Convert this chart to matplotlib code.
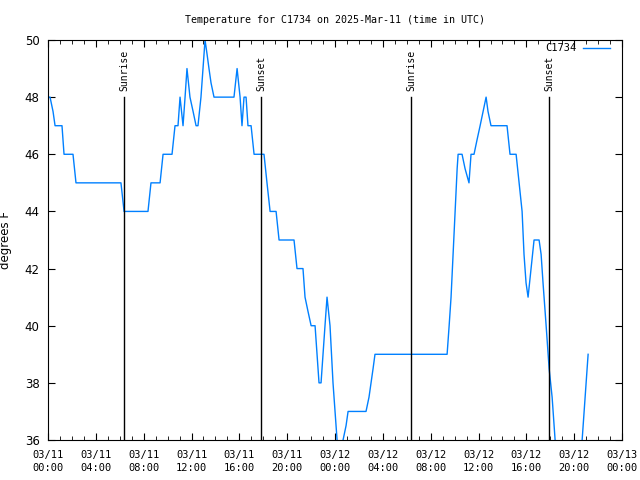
import matplotlib
matplotlib.use('Agg')
import matplotlib.pyplot as plt

# hours since 03/11 00:00 UTC, temperature in deg F
hours = [0.0, 0.17, 0.42, 0.59, 1.17, 1.34, 2.09, 2.34, 6.10, 6.36, 8.36, 8.61, 9.37, 9.62,
         10.37, 10.62, 10.87, 11.04, 11.29, 11.46, 11.62, 11.87, 12.13, 12.38, 12.54, 12.79,
         12.96, 13.13, 13.30, 13.46, 13.63, 13.88, 15.55, 15.81, 16.06, 16.22, 16.39, 16.56,
         16.72, 16.98, 17.23, 18.06, 18.31, 18.57, 19.07, 19.32, 20.57, 20.82, 21.32, 21.49,
         21.74, 22.00, 22.33, 22.66, 22.83, 23.16, 23.33, 23.58, 23.83, 24.17, 24.42, 24.67,
         24.92, 25.09, 26.59, 26.84, 27.01, 27.18, 27.34, 33.37, 33.54, 33.70, 33.87, 34.04,
         34.21, 34.29, 34.62, 34.87, 35.20, 35.37, 35.62, 35.87, 36.13, 36.38, 36.63, 36.79,
         37.04, 38.38, 38.63, 39.14, 39.39, 39.64, 39.80, 39.97, 40.14, 40.39, 40.64, 41.06,
         41.23, 41.39, 41.65, 41.90, 42.15, 42.40, 42.65, 44.40, 44.66, 44.91, 45.16]
temps = [48, 48, 47.5, 47, 47, 46, 46, 45, 45, 44, 44, 45, 45, 46,
         46, 47, 47, 48, 47, 48, 49, 48, 47.5, 47, 47, 48,
         49, 50, 49.5, 49, 48.5, 48, 48, 49, 48, 47, 48, 48,
         47, 47, 46, 46, 45, 44, 44, 43, 43, 42, 42, 41,
         40.5, 40, 40, 38, 38, 40, 41, 40, 38, 36, 35.5, 36,
         36.5, 37, 37, 37.5, 38, 38.5, 39, 39, 40, 41, 42.5, 44,
         45.5, 46, 46, 45.5, 45, 46, 46, 46.5, 47, 47.5, 48, 47.5,
         47, 47, 46, 46, 45, 44, 42.5, 41.5, 41, 42, 43, 43,
         42.5, 41.5, 40, 38.5, 37.5, 36, 35, 35, 36, 37.5, 39]

sun_times = [6.36, 17.82, 30.36, 41.90]
sun_names = ['Sunrise', 'Sunset', 'Sunrise', 'Sunset']

tick_hours = list(range(0, 49, 4))
tick_labels = ['03/11\n00:00', '03/11\n04:00', '03/11\n08:00', '03/11\n12:00', '03/11\n16:00',
               '03/11\n20:00', '03/12\n00:00', '03/12\n04:00', '03/12\n08:00', '03/12\n12:00',
               '03/12\n16:00', '03/12\n20:00', '03/13\n00:00']

fig = plt.figure(figsize=(6.4, 4.8), dpi=100)
ax = fig.add_axes([0.075, 0.0833, 0.897, 0.8334])

ax.plot(hours, temps, color='#0080ff', lw=1, label='C1734')

for t, name in zip(sun_times, sun_names):
    ax.plot([t, t], [36, 48], color='black', lw=1)
    ax.text(t, 48.2, name, rotation=90, ha='center', va='bottom',
            family='DejaVu Sans Mono', fontsize=7)

ax.set_xlim(0, 48)
ax.set_ylim(36, 50)
ax.set_xticks(tick_hours)
ax.set_xticklabels(tick_labels, family='DejaVu Sans Mono', fontsize=7.5, linespacing=1.35)
ax.set_xticks(range(0, 49), minor=True)
ax.set_yticks(range(36, 51, 2))
ax.tick_params(axis='y', labelsize=8.5, pad=6)
ax.tick_params(axis='x', pad=7)
ax.tick_params(which='both', direction='in', top=True, right=True)
ax.tick_params(which='major', length=5)
ax.tick_params(which='minor', length=3)

ax.set_ylabel('degrees F', fontsize=8.5)
ax.yaxis.set_label_coords(-0.062, 0.5)
ax.set_title('Temperature for C1734 on 2025-Mar-11 (time in UTC)',
             family='DejaVu Sans Mono', fontsize=7.2, pad=12)

ax.legend(loc='upper right', frameon=False, markerfirst=False,
          prop={'family': 'DejaVu Sans Mono', 'size': 7.5},
          handlelength=2.6, handletextpad=0.6,
          bbox_to_anchor=(0.995, 1.015))

fig.savefig('out.png', dpi=100)
